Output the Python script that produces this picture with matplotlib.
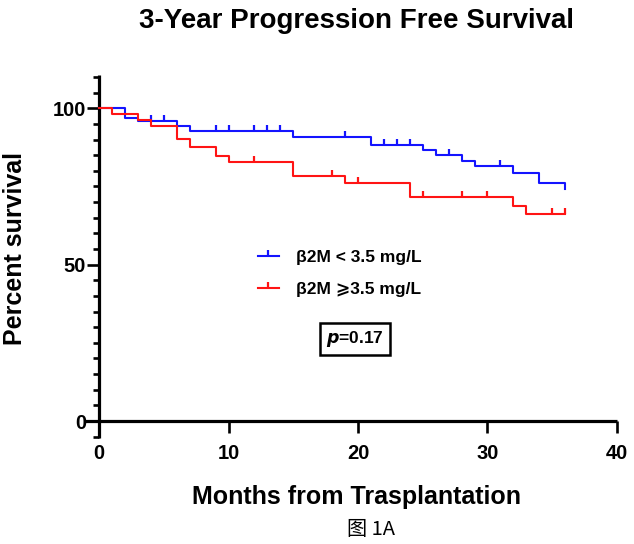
import matplotlib
matplotlib.use("Agg")
import matplotlib.pyplot as plt
import numpy as np
from matplotlib.lines import Line2D
from matplotlib.ticker import MultipleLocator

# Kaplan-Meier steps (months, percent surviving)
low_times = [0, 2, 3, 6, 7, 15, 21, 25, 26, 28, 29, 32, 34, 36]
low_surv = [100, 97.0, 95.9, 94.2, 92.6, 90.8, 88.3, 86.6, 85.1, 83.1, 81.4, 79.3, 76.1, 74.2]
low_censor = [4, 5, 9, 10, 12, 13, 14, 19, 22, 23, 24, 27, 31]

high_times = [0, 1, 3, 4, 6, 7, 9, 10, 15, 19, 24, 32, 33, 36]
high_surv = [100, 98.0, 96.2, 94.3, 90.3, 87.6, 84.8, 82.7, 78.2, 76.2, 71.6, 68.7, 66.2, 66.2]
high_censor = [12, 18, 20, 25, 28, 30, 35, 36]

x_ticks = [0, 10, 20, 30, 40]
y_ticks = [0, 50, 100]

LOW_LABEL = "β2M < 3.5 mg/L"
HIGH_LABEL = "β2M ⩾3.5 mg/L"
BLUE = "#1414ff"
RED = "#ff1414"
FONT = ["Liberation Sans", "DejaVu Sans", "Noto Sans CJK SC"]

plt.rcParams["font.family"] = FONT
plt.rcParams["font.weight"] = "bold"


def level_at(times, surv, t):
    i = np.searchsorted(times, t, side="right") - 1
    return np.asarray(surv)[i]


fig = plt.figure(figsize=(6.34, 5.44), dpi=100)
ax = fig.add_axes([0.134, 0.195, 0.839, 0.667])

for times, surv, cens, col in [(low_times, low_surv, low_censor, BLUE),
                               (high_times, high_surv, high_censor, RED)]:
    ax.step(times, surv, where="post", color=col, lw=1.5, zorder=3)
    ax.plot(cens, level_at(times, surv, cens), ls="none", marker=2,
            markersize=4, markeredgewidth=1.6, color=col, zorder=3)

ax.set_xlim(-1.1, 40)
ax.set_ylim(-5.4, 110.6)
ax.spines["top"].set_visible(False)
ax.spines["right"].set_visible(False)
ax.spines["left"].set_position(("data", 0))
ax.spines["bottom"].set_position(("data", 0))
for s in ("left", "bottom"):
    ax.spines[s].set_linewidth(2.3)
    ax.spines[s].set_capstyle("butt")

ax.set_xticks(x_ticks)
ax.set_yticks(y_ticks)
ax.yaxis.set_minor_locator(MultipleLocator(5))
ax.tick_params(axis="both", which="major", length=8.5, width=1.9, labelsize=14.5)
ax.tick_params(axis="x", which="major", pad=8)
ax.tick_params(axis="y", which="major", pad=1)
ax.tick_params(axis="y", which="minor", length=4.5, width=1.9)
for lab in ax.get_xticklabels() + ax.get_yticklabels():
    lab.set_fontweight("bold")

fig.text(0.563, 0.086, "Months from Trasplantation", ha="center", va="center",
         fontsize=18, fontweight="bold")
fig.text(0.024, 0.544, "Percent survival", ha="center", va="center", rotation=90,
         fontsize=18, fontweight="bold")
fig.text(0.563, 0.962, "3-Year Progression Free Survival", ha="center", va="center",
         fontsize=20, fontweight="bold")
fig.text(0.585, 0.027, "图 1A", ha="center", va="center", fontsize=14.5,
         fontweight="normal", family=["Noto Sans CJK SC", "DejaVu Sans"])

handles = [Line2D([], [], color=BLUE, lw=1.5, marker=2, markersize=4, markeredgewidth=1.6),
           Line2D([], [], color=RED, lw=1.5, marker=2, markersize=4, markeredgewidth=1.6)]
leg = ax.legend(handles, [LOW_LABEL, HIGH_LABEL], loc="center left",
                bbox_to_anchor=(0.325, 0.453), frameon=False, fontsize=12.5,
                numpoints=1, handlelength=1.2, handletextpad=1.0, labelspacing=1.0,
                borderpad=0, borderaxespad=0)
for t in leg.get_texts():
    t.set_fontweight("bold")

ax.text(0.508, 0.273, "$\\mathbfit{p}$=0.17", transform=ax.transAxes, ha="center", va="center",
        fontsize=12.5, fontweight="bold",
        bbox=dict(boxstyle="square,pad=0.35", fc="white", ec="black", lw=1.8))

fig.savefig("out.png", dpi=100)
